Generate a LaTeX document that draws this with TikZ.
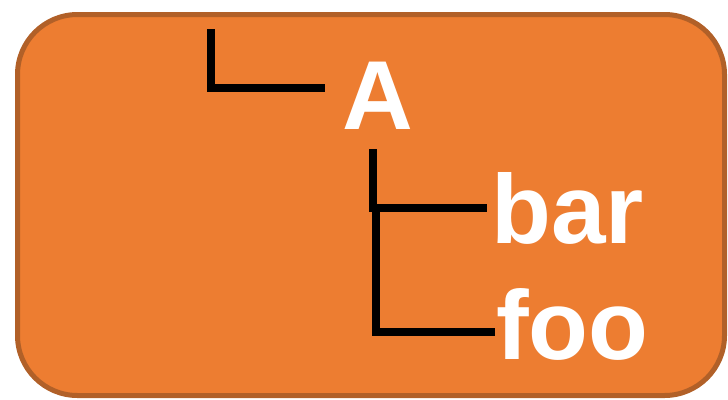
\documentclass[tikz,border=0pt]{standalone}
\usepackage{fontspec}
\setmainfont{Liberation Sans}
\usetikzlibrary{positioning}

\definecolor{boxfill}{HTML}{ED7D31}
\definecolor{boxline}{RGB}{177,96,40}

\begin{document}
\begin{tikzpicture}[
			x=1pt, y=-1pt,
			panel/.style={draw=boxline, line width=5pt, fill=boxfill, rounded corners=60pt},
			label/.style={anchor=base west, inner sep=0pt, text=white, font=\fontsize{98}{98}\selectfont\bfseries},
			branch/.style={draw=black, line width=8pt}
			]
			
			\useasboundingbox (0,0) rectangle (728,399);
			
			% Fondo
			\path[panel] (17.5,14.5) rectangle (724.5,395.5);
			
			% Nodos
			\node (A) [label] at (342,129) {A};
			\node (bar) [label] at (491,243) {bar};
			\node (foo) [label] at (496,359) {foo};
			
			% Puntos de arranque
			\coordinate (rootstem) at (211,29);
			\coordinate (astem) at (373,149);
			\coordinate (barstem) at (376,207);
			
			% Conexiones
			\draw [branch] (rootstem) |- ([xshift=-17pt, yshift=7pt]A.west);
			\draw [branch] (astem) |- ([xshift=-4pt]bar.west);
			\draw [branch] (barstem) |- ([xshift=-1pt, yshift=-8pt]foo.west);
			
		\end{tikzpicture}
\end{document}
